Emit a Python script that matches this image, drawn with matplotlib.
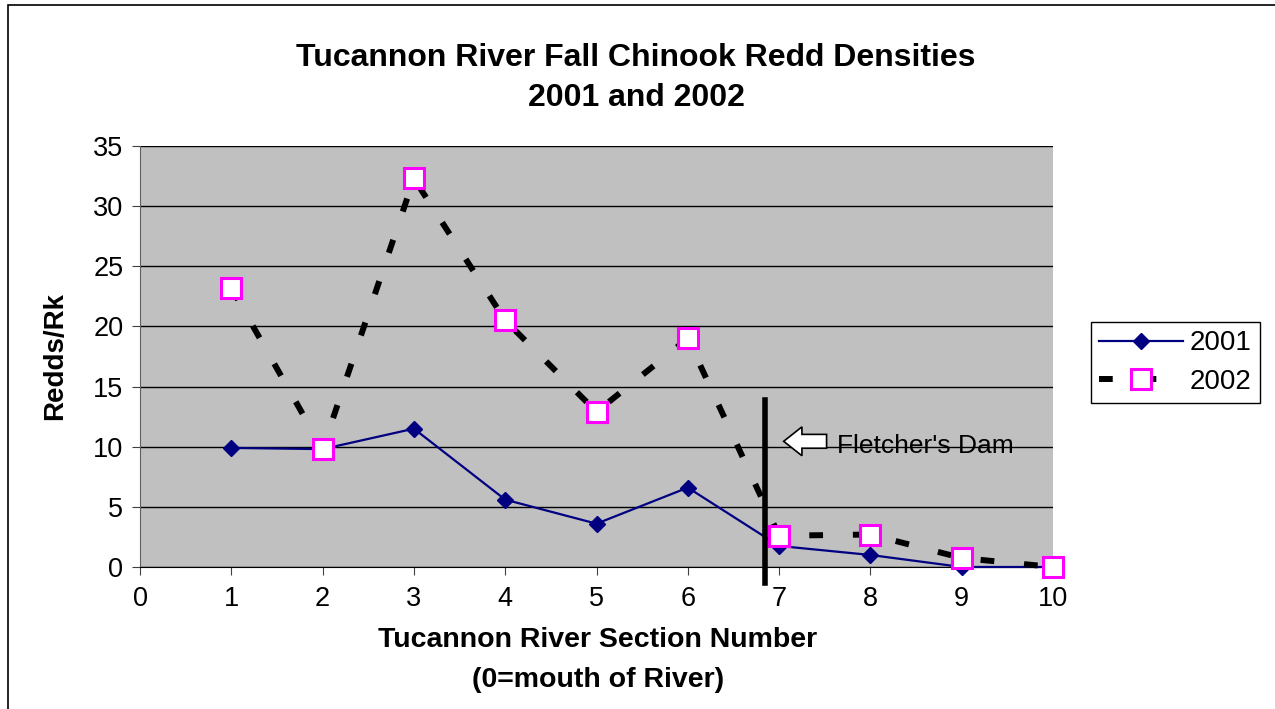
import matplotlib
matplotlib.use("Agg")
import matplotlib.pyplot as plt
from matplotlib.patches import Rectangle, FancyArrow

plt.rcParams['font.family'] = ['Liberation Sans', 'DejaVu Sans']

sections = [1, 2, 3, 4, 5, 6, 7, 8, 9, 10]
redds_2001 = [9.9, 9.8, 11.5, 5.6, 3.6, 6.6, 1.75, 1.0, 0.0, 0.0]
redds_2002 = [23.2, 9.8, 32.3, 20.5, 12.9, 19.0, 2.6, 2.7, 0.75, 0.0]
dam_x = 6.85
dam_y = [-1.3, 13.9]
xticks = list(range(0, 11))
yticks = list(range(0, 36, 5))

fig = plt.figure(figsize=(12.75, 7.09), dpi=100)
fig.patch.set_facecolor('white')
fig.patches.append(Rectangle((8/1275, -0.1), 1.2, (709-5)/709 + 0.1, transform=fig.transFigure,
                             fill=False, edgecolor='black', linewidth=1.2))

ax = fig.add_axes([140/1275, 1-567/709, (1053-140)/1275, (567-146)/709])
ax.set_facecolor('#C0C0C0')
ax.set_xlim(0, 10)
ax.set_ylim(0, 35)
ax.set_xticks(xticks)
ax.set_yticks(yticks)
ax.yaxis.grid(True, color='black', linewidth=1.0)
ax.set_axisbelow(True)
for s in ['top', 'right']:
    ax.spines[s].set_visible(False)
ax.spines['left'].set_color('#606060')
ax.spines['bottom'].set_color('black')
ax.tick_params(axis='both', labelsize=19.5, length=6, direction='out', color='#404040')
ax.tick_params(axis='x', pad=8)
ax.tick_params(axis='y', pad=6)

ax.plot(sections, redds_2001, color='#000080', linewidth=1.6, marker='D', markersize=8,
        markerfacecolor='#000080', markeredgecolor='#000080', label='2001', zorder=3, clip_on=False)
ax.plot(sections, redds_2002, color='black', linewidth=4.3, linestyle=(0, (2.3, 5.0)),
        marker='s', markersize=14, markerfacecolor='white', markeredgecolor='#FF00FF',
        markeredgewidth=2.2, label='2002', zorder=4, clip_on=False)

ax.plot([dam_x, dam_x], dam_y, color='black', linewidth=4, clip_on=False, zorder=5)
ax.add_patch(FancyArrow(7.52, 10.45, -0.47, 0, width=1.15, head_width=2.4, head_length=0.2,
                        length_includes_head=True, facecolor='white', edgecolor='black',
                        linewidth=1.2, zorder=6))
ax.text(7.63, 10.1, "Fletcher's Dam", fontsize=19, va='center', ha='left', zorder=6)

fig.text(636/1275, 1-58/709, 'Tucannon River Fall Chinook Redd Densities', fontsize=23,
         fontweight='bold', ha='center', va='center')
fig.text(636/1275, 1-98/709, '2001 and 2002', fontsize=23,
         fontweight='bold', ha='center', va='center')
fig.text(598/1275, 1-640/709, 'Tucannon River Section Number', fontsize=20.5,
         fontweight='bold', ha='center', va='center')
fig.text(598/1275, 1-680/709, '(0=mouth of River)', fontsize=20.5,
         fontweight='bold', ha='center', va='center')
ax.set_ylabel('Redds/Rk', fontsize=20, fontweight='bold', labelpad=18)

leg = ax.legend(loc='upper left', bbox_to_anchor=(1091/1275, 1-322/709), bbox_transform=fig.transFigure,
                fontsize=20, frameon=True, fancybox=False, edgecolor='black', framealpha=1,
                borderpad=0.3, handlelength=3.0, labelspacing=0.45, handletextpad=0.25,
                borderaxespad=0)
leg.get_frame().set_linewidth(1.0)

fig.savefig('out.png', dpi=100)
